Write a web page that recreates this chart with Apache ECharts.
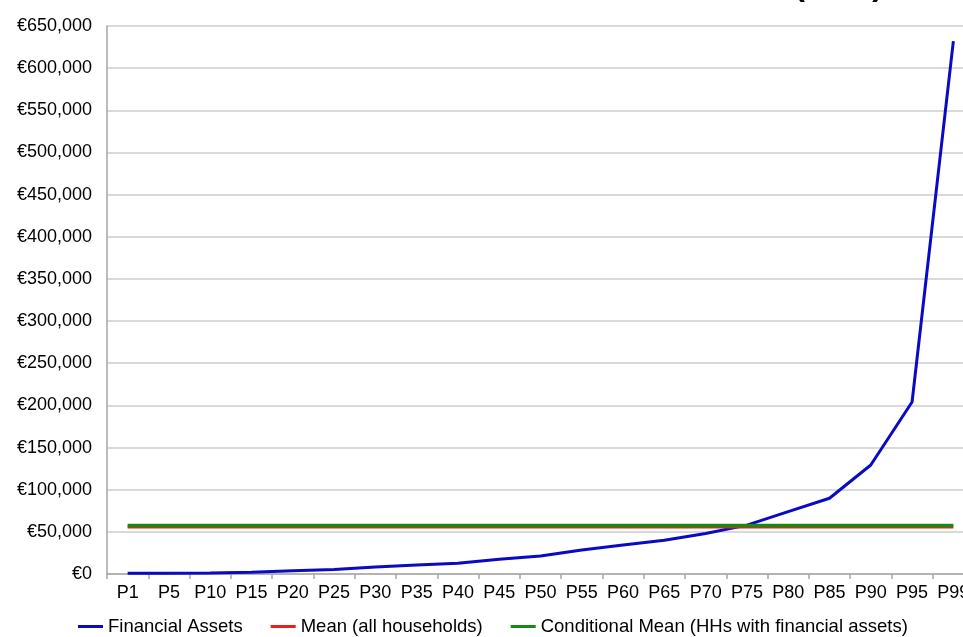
<!DOCTYPE html>
<html>
<head>
<meta charset="utf-8">
<script src="https://cdn.jsdelivr.net/npm/echarts@6/dist/echarts.min.js"></script>
<style>
html,body{margin:0;padding:0;background:#fff;}
#chart{width:963px;height:637px;}
</style>
</head>
<body>
<div id="chart"></div>
<script>
// Percentile categories
const categories = ['P1','P5','P10','P15','P20','P25','P30','P35','P40','P45','P50','P55','P60','P65','P70','P75','P80','P85','P90','P95','P99'];
// Financial assets at each percentile (EUR)
const financialAssets = [800, 1000, 1300, 2000, 4000, 5400, 8300, 10700, 12700, 17400, 21300, 28500, 34400, 40000, 48000, 58000, 73900, 89800, 129300, 204000, 632000];
// Means (EUR)
const meanAllHouseholds = 55600;
const conditionalMean = 57600;
const meanAllSeries = categories.map(() => meanAllHouseholds);
const conditionalMeanSeries = categories.map(() => conditionalMean);
const titleText = 'Financial Assets Distribution (EUR)';

const chart = echarts.init(document.getElementById('chart'));
const FONT = 'Liberation Sans, Arial, sans-serif';
chart.setOption({
  animation: false,
  backgroundColor: '#ffffff',
  textStyle: { fontFamily: FONT },
  title: {
    text: titleText,
    right: 80,
    top: -30,
    padding: 0,
    textStyle: { fontFamily: FONT, fontSize: 32, fontWeight: 'bold', color: '#000' }
  },
  legend: {
    left: 78,
    top: 617,
    padding: 0,
    itemGap: 28,
    itemWidth: 25,
    itemHeight: 3,
    icon: 'rect',
    textStyle: { fontFamily: FONT, fontSize: 18.5, color: '#000' },
    data: ['Financial Assets', 'Mean (all households)', 'Conditional Mean (HHs with financial assets)']
  },
  grid: {
    left: 107,
    top: 26,
    width: 867,
    height: 548,
    containLabel: false,
    outerBoundsMode: 'none'
  },
  xAxis: {
    type: 'category',
    data: categories,
    boundaryGap: true,
    axisLine: { lineStyle: { color: '#a6a6a6', width: 1.5 } },
    axisTick: { show: true, length: 5, interval: 0, lineStyle: { color: '#a6a6a6', width: 1.5 } },
    axisLabel: { interval: 0, margin: 10, fontSize: 18, color: '#000', fontFamily: FONT },
    splitLine: { show: false }
  },
  yAxis: {
    type: 'value',
    min: 0,
    max: 650000,
    interval: 50000,
    axisLine: { show: true, lineStyle: { color: '#a6a6a6', width: 1.5 } },
    axisTick: { show: false },
    axisLabel: {
      margin: 15,
      fontSize: 18,
      color: '#000',
      fontFamily: FONT,
      formatter: v => '€' + v.toLocaleString('en-US')
    },
    splitLine: { show: true, lineStyle: { color: '#cccccc', width: 1.5 } }
  },
  series: [
    {
      name: 'Financial Assets',
      type: 'line',
      data: financialAssets,
      symbol: 'none',
      smooth: false,
      lineStyle: { color: '#0a0ac4', width: 3 },
      itemStyle: { color: '#0a0ac4' }
    },
    {
      name: 'Mean (all households)',
      type: 'line',
      data: meanAllSeries,
      symbol: 'none',
      lineStyle: { color: '#e8201c', width: 3 },
      itemStyle: { color: '#e8201c' }
    },
    {
      name: 'Conditional Mean (HHs with financial assets)',
      type: 'line',
      data: conditionalMeanSeries,
      symbol: 'none',
      lineStyle: { color: '#148c14', width: 3.5 },
      itemStyle: { color: '#148c14' }
    }
  ]
});
</script>
</body>
</html>
